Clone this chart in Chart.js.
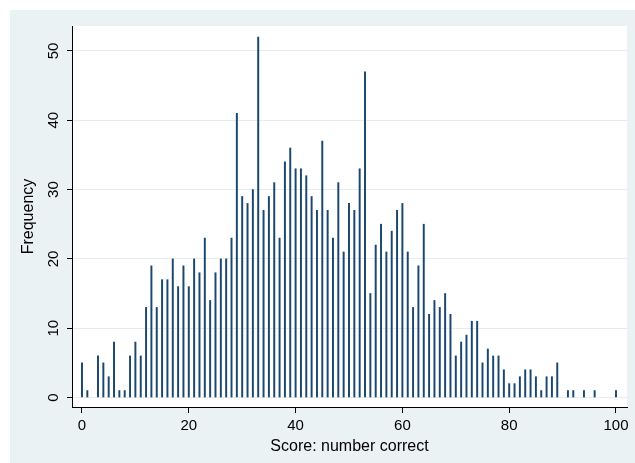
<!DOCTYPE html>
<html>
<head>
<meta charset="utf-8">
<script src="https://cdn.jsdelivr.net/npm/chart.js@4/dist/chart.umd.min.js"></script>
<style>
  html, body { margin: 0; padding: 0; background: #fff; }
  canvas { display: block; }
</style>
</head>
<body>
<canvas id="myChart" width="635" height="463"></canvas>
<script>
let scores = [0, 1, 3, 4, 5, 6, 7, 8, 9, 10, 11, 12, 13, 14, 15, 16, 17, 18, 19, 20,
  21, 22, 23, 24, 25, 26, 27, 28, 29, 30, 31, 32, 33, 34, 35, 36, 37, 38, 39, 40,
  41, 42, 43, 44, 45, 46, 47, 48, 49, 50, 51, 52, 53, 54, 55, 56, 57, 58, 59, 60,
  61, 62, 63, 64, 65, 66, 67, 68, 69, 70, 71, 72, 73, 74, 75, 76, 77, 78, 79, 80,
  81, 82, 83, 84, 85, 86, 87, 88, 89, 91, 92, 94, 96, 100];
let frequency = [5, 1, 6, 5, 3, 8, 1, 1, 6, 8, 6, 13, 19, 13, 17, 17, 20, 16, 19, 16,
  20, 18, 23, 14, 18, 20, 20, 23, 41, 29, 28, 30, 52, 27, 29, 31, 23, 34, 36, 33,
  33, 32, 29, 27, 37, 27, 23, 31, 21, 28, 27, 33, 47, 15, 22, 25, 21, 24, 27, 28,
  21, 13, 19, 25, 12, 14, 13, 15, 12, 6, 8, 9, 11, 11, 5, 7, 6, 6, 4, 2,
  2, 3, 4, 4, 3, 1, 3, 3, 5, 1, 1, 1, 1, 1];
let xTicks = [0, 20, 40, 60, 80, 100];
let yTicks = [0, 10, 20, 30, 40, 50];

let stataBg = {
  id: 'stataBg',
  beforeDraw: (chart) => {
    let c = chart.ctx;
    let a = chart.chartArea;
    c.save();
    c.fillStyle = '#ffffff';
    c.fillRect(0, 0, chart.width, chart.height);
    c.fillStyle = '#EAF2F3';
    c.fillRect(10, 10, chart.width - 10, chart.height - 10);
    c.fillStyle = '#ffffff';
    c.fillRect(a.left, a.top, a.right - a.left, a.bottom - a.top);
    c.restore();
  }
};

let font = { family: "'Liberation Sans', Arial, sans-serif", size: 15 };
let titleFont = { family: "'Liberation Sans', Arial, sans-serif", size: 16 };

let ctx = document.getElementById('myChart').getContext('2d');
let myChart = new Chart(ctx, {
  type: 'bar',
  data: {
    datasets: [{
      data: scores.map((s, i) => ({ x: s, y: frequency[i] })),
      backgroundColor: '#1A476F',
      borderWidth: 0,
      barThickness: 1.3,
      grouped: false
    }]
  },
  options: {
    responsive: false,
    animation: false,
    layout: { padding: { left: 0, top: 26, right: 8, bottom: 0 } },
    plugins: { legend: { display: false }, tooltip: { enabled: false } },
    scales: {
      x: {
        type: 'linear',
        min: -1.87,
        max: 102.06,
        offset: false,
        afterBuildTicks: (scale) => { scale.ticks = xTicks.map(v => ({ value: v })); },
        afterFit: (scale) => { scale.height = 56; },
        grid: { offset: false, drawOnChartArea: false, tickLength: 6, tickColor: '#000', tickWidth: 1 },
        border: { display: true, color: '#000', width: 1 },
        ticks: { color: '#000', font: font, padding: 4, maxRotation: 0 },
        title: { display: true, text: 'Score: number correct', color: '#000', font: titleFont, padding: { top: 0, bottom: 7 } }
      },
      y: {
        min: -1.37,
        max: 53.6,
        afterBuildTicks: (scale) => { scale.ticks = yTicks.map(v => ({ value: v })); },
        afterFit: (scale) => { scale.width = 72; },
        grid: { color: '#E3EDEE', lineWidth: 1, tickLength: 5, tickColor: '#000', tickWidth: 1 },
        border: { display: true, color: '#000', width: 1 },
        ticks: { color: '#000', font: font, padding: 5, minRotation: 90, maxRotation: 90, crossAlign: 'center' },
        title: { display: true, text: 'Frequency', color: '#000', font: titleFont, padding: { top: 19, bottom: 0 } }
      }
    }
  },
  plugins: [stataBg]
});
</script>
</body>
</html>
